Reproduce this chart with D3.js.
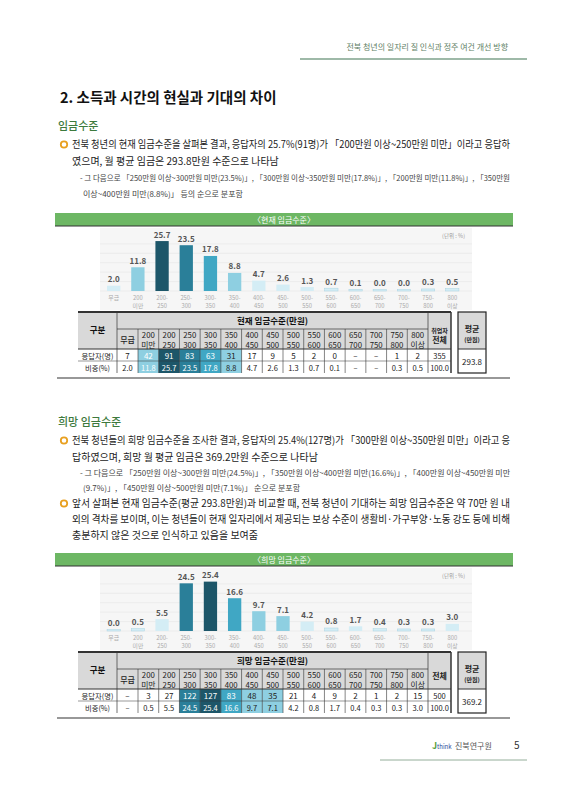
<!DOCTYPE html>
<html><head><meta charset="utf-8">
<script src="https://cdn.jsdelivr.net/npm/d3@7"></script>
<style>body{margin:0;background:#fff}svg{display:block}text{font-family:"Noto Sans CJK KR","Noto Sans",sans-serif}</style>
</head><body><svg id="s" width="566" height="800"></svg>
<script>
const cats=["무급","200\n미만","200-\n250","250-\n300","300-\n350","350-\n400","400-\n450","450-\n500","500-\n550","550-\n600","600-\n650","650-\n700","700-\n750","750-\n800","800\n이상"];
const tblHead=[["무급",""],["200","미만"],["200","250"],["250","300"],["300","350"],["350","400"],["400","450"],["450","500"],["500","550"],["550","600"],["600","650"],["650","700"],["700","750"],["750","800"],["800","이상"]];
const curPct=[2.0,11.8,25.7,23.5,17.8,8.8,4.7,2.6,1.3,0.7,0.1,0.0,0.0,0.3,0.5];
const curN=["7","42","91","83","63","31","17","9","5","2","0","–","–","1","2"];
const curPctT=["2.0","11.8","25.7","23.5","17.8","8.8","4.7","2.6","1.3","0.7","0.1","–","–","0.3","0.5"];
const curTot=["355","100.0"], curAvg="293.8";
const hopePct=[0.0,0.5,5.5,24.5,25.4,16.6,9.7,7.1,4.2,0.8,1.7,0.4,0.3,0.3,3.0];
const hopeN=["–","3","27","122","127","83","48","35","21","4","9","2","1","2","15"];
const hopePctT=["–","0.5","5.5","24.5","25.4","16.6","9.7","7.1","4.2","0.8","1.7","0.4","0.3","0.3","3.0"];
const hopeTot=["500","100.0"], hopeAvg="369.2";

const svg=d3.select("#s");
function T(x,y,s,o={}){const t=svg.append("text").attr("x",x).attr("y",y).text(s)
 .attr("font-size",o.fs||10).attr("fill",o.fill||"#222").attr("font-weight",o.fw||400).attr("text-anchor",o.a||"start");
 if(o.len){t.attr("textLength",o.len).attr("lengthAdjust","spacingAndGlyphs");}return t;}

T(508,50,"전북 청년의 일자리 질 인식과 정주 여건 개선 방향",{fs:8,fill:"#5f7f66",a:"end"});
svg.append("line").attr("x1",300).attr("x2",527).attr("y1",59).attr("y2",59).attr("stroke","#3f7552").attr("stroke-width",1.2);
T(60,103,"2. 소득과 시간의 현실과 기대의 차이",{fs:14.5,fw:700,fill:"#111"});

function bullet(y){svg.append("circle").attr("cx",64).attr("cy",y-3.5).attr("r",3.2).attr("fill","none").attr("stroke","#e8a020").attr("stroke-width",1.8);}
T(58,130,"임금수준",{fs:11,fill:"#3d7a3d",fw:500});
bullet(148);
T(72,148,"전북 청년의 현재 임금수준을 살펴본 결과, 응답자의 25.7%(91명)가 「200만원 이상~250만원 미만」이라고 응답하",{len:438});
T(72,165,"였으며, 월 평균 임금은 293.8만원 수준으로 나타남");
T(80,181,"- 그 다음으로 「250만원 이상~300만원 미만(23.5%)」, 「300만원 이상~350만원 미만(17.8%)」, 「200만원 미만(11.8%)」, 「350만원",{fs:8,fill:"#444",len:430});
T(83,197,"이상~400만원 미만(8.8%)」 등의 순으로 분포함",{fs:8,fill:"#444"});

T(58,426,"희망 임금수준",{fs:11,fill:"#3d7a3d",fw:500});
bullet(444);
T(72,444,"전북 청년들의 희망 임금수준을 조사한 결과, 응답자의 25.4%(127명)가 「300만원 이상~350만원 미만」이라고 응",{len:438});
T(72,461,"답하였으며, 희망 월 평균 임금은 369.2만원 수준으로 나타남");
T(80,476,"- 그 다음으로 「250만원 이상~300만원 미만(24.5%)」, 「350만원 이상~400만원 미만(16.6%)」, 「400만원 이상~450만원 미만",{fs:8,fill:"#444",len:430});
T(83,491,"(9.7%)」, 「450만원 이상~500만원 미만(7.1%)」 순으로 분포함",{fs:8,fill:"#444"});
bullet(507);
T(72,507,"앞서 살펴본 현재 임금수준(평균 293.8만원)과 비교할 때, 전북 청년이 기대하는 희망 임금수준은 약 70만 원 내",{len:438});
T(72,523,"외의 격차를 보이며, 이는 청년들이 현재 일자리에서 제공되는 보상 수준이 생활비·가구부양·노동 강도 등에 비해",{len:438});
T(72,539,"충분하지 않은 것으로 인식하고 있음을 보여줌");

function colorFor(vals,v){const s=[...vals].sort((a,b)=>b-a);const r=s.indexOf(v);
 if(r===0)return "#1d5669"; if(r===1)return "#2a7f99"; if(r===2)return "#40a7c4"; if(v>=7)return "#8ecfe1"; return "#d4edf5";}

function block(title,y0,pct,N,PT,tot,avg,tblTitle){
 svg.append("rect").attr("x",55).attr("y",y0).attr("width",458).attr("height",13).attr("fill","#6db764");
 svg.append("line").attr("x1",55).attr("x2",513).attr("y1",y0+13).attr("y2",y0+13).attr("stroke","#333").attr("stroke-width",1);
 T(284,y0+10,title,{fs:8,fill:"#fff",a:"middle"});
 const cy=y0+15, base=y0+78;
 svg.append("rect").attr("x",100).attr("y",cy).attr("width",372).attr("height",82).attr("fill","#f6f6f6");
 const x=d3.scaleBand().domain(d3.range(15)).range([101,465]).paddingInner(0.45).paddingOuter(0.25);
 const y=d3.scaleLinear().domain([0,26]).range([base,base-49]);
 [0,5,10,15,20,25].forEach(g=>svg.append("line").attr("x1",100).attr("x2",472).attr("y1",y(g)).attr("y2",y(g)).attr("stroke","#ececec"));
 svg.selectAll(null).data(pct).enter().append("rect").attr("x",(d,i)=>x(i)).attr("width",x.bandwidth())
  .attr("y",d=>y(d)-1.5).attr("height",d=>base-y(d)+1.5).attr("fill",d=>colorFor(pct,d)).attr("stroke",d=>d<1?"#a9d3e2":"none").attr("stroke-width",0.5);
 pct.forEach((d,i)=>{T(x(i)+x.bandwidth()/2,y(d)-5,d.toFixed(1),{fs:8,fw:700,fill:"#555",a:"middle"});
  const p=cats[i].split("\n");T(x(i)+x.bandwidth()/2,base+9,p[0],{fs:5.8,fill:"#aaa",a:"middle"});
  T(x(i)+x.bandwidth()/2,base+16.5,p[1],{fs:5.8,fill:"#aaa",a:"middle"});});
 T(465,cy+10,"(단위 : %)",{fs:5.5,fill:"#999",a:"end"});
 const ty=y0+99, L=78, c0=117, c1=138, cw=(428-138)/14, R=451;
 const rows=[ty,ty+17,ty+37,ty+49,ty+61];
 const colX=i=>i===0?c0:c1+(i-1)*cw, colW=i=>i===0?c1-c0:cw;
 svg.append("rect").attr("x",L).attr("y",ty).attr("width",R-L).attr("height",rows[2]-ty).attr("fill","#d9d9d9");
 for(let i=0;i<15;i++){const c=colorFor(pct,pct[i]);if(pct[i]>=7)
  svg.append("rect").attr("x",colX(i)).attr("y",rows[2]).attr("width",colW(i)).attr("height",rows[4]-rows[2]).attr("fill",c);}
 const g="#333";
 const ln=(x1,y1,x2,y2,w)=>svg.append("line").attr("x1",x1).attr("y1",y1).attr("x2",x2).attr("y2",y2).attr("stroke",g).attr("stroke-width",w||0.7);
 ln(L,ty,R,ty,1.8); ln(c0,rows[1],428,rows[1]); ln(L,rows[2],R,rows[2],1); ln(L,rows[3],R,rows[3],0.5);
 ln(c0,ty,c0,rows[4]); ln(428,ty,428,rows[4]); ln(R,ty,R,rows[4],1.5);
 for(let i=1;i<15;i++) ln(colX(i),rows[1],colX(i),rows[4],0.6);
 ln(57,rows[4]+5,510,rows[4]+5,1.2);
 T((L+c0)/2,ty+21,"구분",{fs:8.5,fw:700,a:"middle",fill:"#111"});
 T((c0+428)/2,ty+12,tblTitle,{fs:8.5,fw:700,a:"middle",fill:"#111"});
 tblHead.forEach((h,i)=>{const cx=colX(i)+colW(i)/2;
  if(h[1]===""){T(cx,rows[1]+14,h[0],{fs:8,a:"middle",fw:500});}
  else{T(cx,rows[1]+8.5,h[0],{fs:7.8,a:"middle"});T(cx,rows[1]+18.5,h[1],{fs:7.8,a:"middle"});}});
 if(tot[0]==="355"){T((428+R)/2,ty+21,"취업자",{fs:6,fw:700,a:"middle"});T((428+R)/2,ty+31,"전체",{fs:8,fw:700,a:"middle"});}
 else T((428+R)/2,ty+27,"전체",{fs:8,fw:700,a:"middle"});
 T((L+c0)/2,rows[2]+9.5,"응답자(명)",{fs:7.3,a:"middle"});T((L+c0)/2,rows[3]+9.5,"비중(%)",{fs:7.3,a:"middle"});
 [N,PT].forEach((arr,r)=>arr.forEach((v,i)=>{const sorted=[...pct].sort((a,b)=>b-a);const rk=sorted.indexOf(pct[i]);
  const white=pct[i]>=7&&(rk<=2||pct[i]>=10);
  T(colX(i)+colW(i)/2,rows[2+r]+9.5,v,{fs:r?7.5:8,a:"middle",fill:white?"#fff":"#222"});}));
 T((428+R)/2,rows[2]+9.5,tot[0],{fs:7.5,a:"middle"});T((428+R)/2,rows[3]+9.5,tot[1],{fs:7.5,a:"middle"});
 svg.append("rect").attr("x",458).attr("y",ty).attr("width",28).attr("height",rows[2]-ty).attr("fill","#d9d9d9");
 svg.append("rect").attr("x",458).attr("y",ty).attr("width",28).attr("height",rows[4]-ty).attr("fill","none").attr("stroke","#222").attr("stroke-width",1.2);
 ln(458,rows[2],486,rows[2],1);
 T(472,ty+20,"평균",{fs:8,fw:700,a:"middle"});T(472,ty+30,"(만원)",{fs:6,fw:700,a:"middle"});
 T(472,rows[3]+4,avg,{fs:8,a:"middle"});
}
block("〈현재 임금수준〉",213,curPct,curN,curPctT,curTot,curAvg,"현재 임금수준(만원)");
block("〈희망 임금수준〉",553,hopePct,hopeN,hopePctT,hopeTot,hopeAvg,"희망 임금수준(만원)");

svg.append("line").attr("x1",380).attr("x2",527).attr("y1",760).attr("y2",760).attr("stroke","#7a9a80").attr("stroke-width",0.8);
T(432,749,"J",{fs:9,fw:700,fill:"#5aa040"});
T(437,749,"think",{fs:6,fill:"#2a4a9a"});
T(455,749,"진북연구원",{fs:8,fill:"#555"});
T(514,749,"5",{fs:10,fill:"#333"});
</script></body></html>
